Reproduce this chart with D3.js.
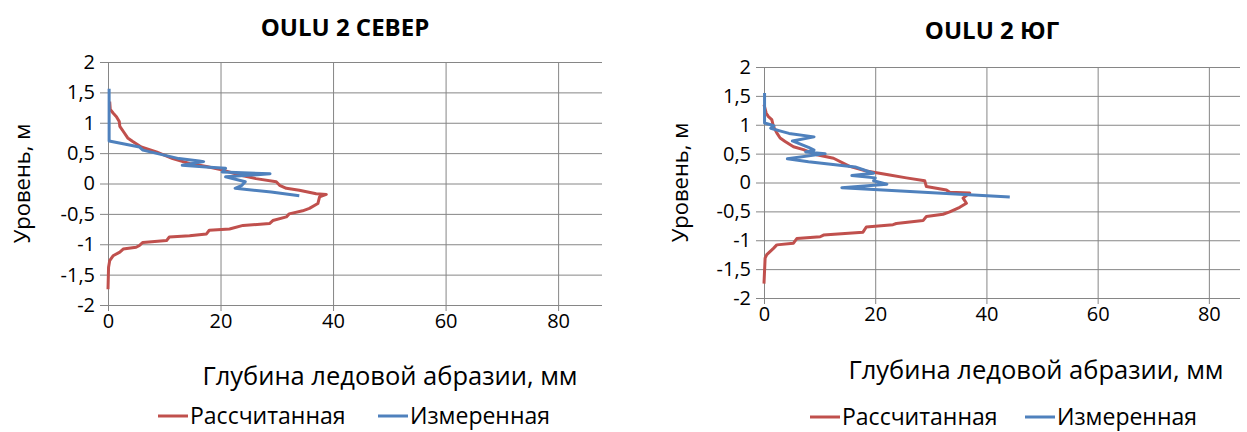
<!DOCTYPE html>
<html>
<head>
<meta charset="utf-8">
<script src="https://cdn.jsdelivr.net/npm/d3@7"></script>
<style>
  body { margin: 0; background: #fff; }
  svg { display: block; font-family: "Open Sans", Lato, sans-serif; }
</style>
</head>
<body>
<svg id="chart" width="1247" height="432"></svg>
<script>
// [depth mm, level m]
const northCalc = [
  [0.3, 1.35], [0.4, 1.22], [0.9, 1.16], [1.5, 1.1], [2.0, 1.02], [2.1, 0.94], [2.7, 0.86],
  [3.5, 0.75], [4.4, 0.69], [5.9, 0.6], [8.6, 0.52], [11.5, 0.41], [14.5, 0.33], [17.5, 0.28],
  [20.4, 0.22], [23.4, 0.14], [26.3, 0.08], [29.9, 0.03], [30.5, -0.03], [31.7, -0.08],
  [34, -0.11], [37, -0.17], [38.8, -0.18], [37.6, -0.22], [37.3, -0.33], [35.8, -0.41],
  [34.6, -0.45], [32.2, -0.5], [31.7, -0.55], [29.3, -0.61], [28.7, -0.66], [24, -0.69],
  [21.6, -0.75], [18, -0.77], [17.5, -0.83], [14.5, -0.86], [10.9, -0.88], [10.4, -0.94],
  [6.2, -0.97], [5.6, -1.02], [5, -1.05], [2.7, -1.08], [2.1, -1.13], [0.9, -1.19],
  [0.3, -1.27], [0.1, -1.38], [0, -1.74]
];
const northMeas = [
  [0.2, 1.56], [0.2, 0.7], [5.6, 0.6], [6.2, 0.55], [12.6, 0.41], [16.2, 0.37], [17, 0.36],
  [13.2, 0.3], [17.4, 0.27], [20.9, 0.25], [20.3, 0.19], [28.8, 0.16], [20.9, 0.11],
  [24.4, 0.03], [23.8, -0.03], [22.6, -0.08], [29, -0.14], [34, -0.2]
];
const southCalc = [
  [0, 1.35], [0.4, 1.2], [0.8, 1.14], [1.4, 1.09], [1.7, 0.97], [2.3, 0.86], [2.9, 0.77],
  [3.8, 0.71], [5.3, 0.62], [7.1, 0.57], [9.5, 0.48], [12.5, 0.42], [15.4, 0.28], [18.4, 0.2],
  [22.6, 0.13], [25.6, 0.08], [28.9, 0.03], [29.2, -0.07], [32.8, -0.13], [33.4, -0.17],
  [37, -0.18], [35.8, -0.27], [36.4, -0.36], [35.2, -0.43], [33.4, -0.51], [32.2, -0.55],
  [29.2, -0.59], [28.6, -0.66], [23.8, -0.71], [23.2, -0.73], [18.4, -0.77], [17.8, -0.86],
  [10.7, -0.91], [10.1, -0.94], [5.9, -0.97], [5.3, -1.05], [2.3, -1.08], [1.7, -1.14],
  [0.5, -1.25], [0.2, -1.31], [0, -1.75]
];
const southMeas = [
  [0.1, 1.55], [0.1, 1.03], [1.2, 1.0], [1.8, 0.98], [1.2, 0.94], [3, 0.89], [4.5, 0.85],
  [9, 0.79], [5.1, 0.72], [8, 0.61], [9, 0.56], [7.5, 0.53], [11, 0.5], [4.2, 0.41],
  [8, 0.36], [16.4, 0.27], [19.7, 0.16], [15.8, 0.12], [20, 0.08], [19.7, 0.03],
  [22.1, -0.03], [14, -0.09], [44.2, -0.25]
];

const yTicks = [2, 1.5, 1, 0.5, 0, -0.5, -1, -1.5, -2];
const xTicks = [0, 20, 40, 60, 80];
const seriesNames = ['Рассчитанная', 'Измеренная'];
const colors = ['#C0504D', '#4F81BD'];

const svg = d3.select('#chart');
const fmt = v => String(v).replace('.', ',');

const charts = [
  { title: 'OULU 2 СЕВЕР', calc: northCalc, meas: northMeas,
    x0: 108, x1: 602, xMax: 87.8, y0: 62, y1: 305,
    titleX: 345, titleY: 36, yTitleX: 30, xTitleX: 390, xTitleY: 385,
    legendX: 158, legendGap: 220, legendY: 424 },
  { title: 'OULU 2 ЮГ', calc: southCalc, meas: southMeas,
    x0: 764, x1: 1240, xMax: 85.6, y0: 67, y1: 298,
    titleX: 992, titleY: 39, yTitleX: 688, xTitleX: 1036, xTitleY: 379,
    legendX: 810, legendGap: 215, legendY: 425 }
];

charts.forEach(c => {
  const x = d3.scaleLinear().domain([0, c.xMax]).range([c.x0, c.x1]);
  const y = d3.scaleLinear().domain([-2, 2]).range([c.y1, c.y0]);
  const g = svg.append('g');

  // horizontal grid + y ticks
  g.append('g')
    .attr('transform', `translate(${c.x0},0)`)
    .call(d3.axisLeft(y).tickValues(yTicks).tickSize(8).tickFormat(fmt))
    .call(a => a.select('.domain').remove())
    .call(a => a.selectAll('line').attr('stroke', '#868686').attr('x1', -8).attr('x2', c.x1 - c.x0))
    .call(a => a.selectAll('text').attr('x', -13).attr('font-size', 20).attr('fill', '#000')
      .attr('font-family', 'Open Sans'));

  // vertical grid + x ticks
  g.append('g')
    .attr('transform', `translate(0,${c.y1})`)
    .call(d3.axisBottom(x).tickValues(xTicks).tickSize(6))
    .call(a => a.select('.domain').remove())
    .call(a => a.selectAll('line').attr('stroke', '#868686').attr('y1', c.y0 - c.y1).attr('y2', 6))
    .call(a => a.selectAll('text').attr('y', 9).attr('font-size', 20).attr('fill', '#000')
      .attr('font-family', 'Open Sans'));

  const line = d3.line().x(d => x(d[0])).y(d => y(d[1]));
  [c.calc, c.meas].forEach((data, i) => {
    g.append('path')
      .datum(data)
      .attr('d', line)
      .attr('fill', 'none')
      .attr('stroke', colors[i])
      .attr('stroke-width', 3)
      .attr('stroke-linejoin', 'round');
  });

  g.append('text')
    .attr('x', c.titleX).attr('y', c.titleY)
    .attr('text-anchor', 'middle')
    .attr('font-size', 24).attr('font-weight', 'bold')
    .text(c.title);

  g.append('text')
    .attr('transform', `translate(${c.yTitleX},${(c.y0 + c.y1) / 2}) rotate(-90)`)
    .attr('text-anchor', 'middle')
    .attr('font-size', 22)
    .text('Уровень, м');

  g.append('text')
    .attr('x', c.xTitleX).attr('y', c.xTitleY)
    .attr('text-anchor', 'middle')
    .attr('font-size', 25.5)
    .text('Глубина ледовой абразии, мм');

  // legend
  seriesNames.forEach((name, i) => {
    const lx = c.legendX + i * c.legendGap;
    g.append('line')
      .attr('x1', lx).attr('x2', lx + 30)
      .attr('y1', c.legendY - 8).attr('y2', c.legendY - 8)
      .attr('stroke', colors[i]).attr('stroke-width', 3);
    g.append('text')
      .attr('x', lx + 32).attr('y', c.legendY)
      .attr('font-size', 23)
      .text(name);
  });
});
</script>
</body>
</html>
